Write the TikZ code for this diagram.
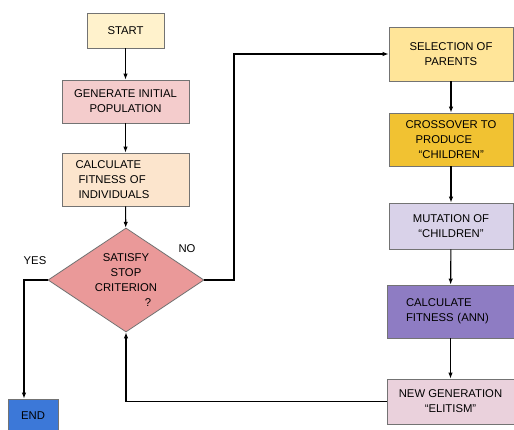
\documentclass[tikz,border=0pt]{standalone}
\usepackage{fontspec}
\setmainfont{Liberation Sans}
\usetikzlibrary{shapes.geometric,arrows.meta}

\begin{document}
\begin{tikzpicture}[x=1pt, y=-1pt,
    every node/.style={font=\fontsize{11.3}{15}\selectfont},
    box/.style={draw=black!55, line width=0.8pt, inner sep=0pt, align=center},
    arr/.style={line width=1.1pt, -{Latex[length=6pt,width=4.5pt]}}]
    \useasboundingbox (0,0) rectangle (514,430);

    % left column
    \node[box, fill={rgb,255:red,255;green,242;blue,204}, minimum width=77pt, minimum height=35pt] (start) at (125.5,30.5) {START};
    \node[box, fill={rgb,255:red,244;green,204;blue,204}, minimum width=127pt, minimum height=43pt] (init) at (125.5,101.5) {GENERATE INITIAL\\POPULATION};
    \node[box, fill={rgb,255:red,252;green,229;blue,205}, minimum width=127pt, minimum height=53pt, align=left, text width=100pt, inner xsep=13.5pt] (fit) at (125.5,179.5) {CALCULATE\\\hspace*{3pt}FITNESS OF\\\hspace*{3pt}INDIVIDUALS};
    \node[box, diamond, aspect=1.5, fill={rgb,255:red,234;green,153;blue,153}, minimum width=156pt, minimum height=104pt] (stop) at (126,280) {SATISFY\\STOP\\CRITERION\\\hspace*{44pt}?};
    \node[box, fill={rgb,255:red,60;green,120;blue,216}, minimum width=50pt, minimum height=34pt] (finish) at (33,416) {END};

    \node (lyes) at (35,261) {YES};
    \node (lno) at (187,249) {NO};

    % right column
    \node[box, fill={rgb,255:red,255;green,229;blue,153}, minimum width=124pt, minimum height=54pt] (sel) at (451,54) {SELECTION OF\\PARENTS};
    \node[box, fill={rgb,255:red,241;green,194;blue,50}, minimum width=124pt, minimum height=53pt, align=left] (cross) at (451,139.5) {CROSSOVER TO\\\hspace*{10pt}PRODUCE\\\hspace*{13pt}“CHILDREN”};
    \node[box, fill={rgb,255:red,217;green,210;blue,233}, minimum width=124pt, minimum height=46pt] (mut) at (451,226) {MUTATION OF\\“CHILDREN”};
    \node[box, fill={rgb,255:red,142;green,124;blue,195}, minimum width=127pt, minimum height=53pt, align=left, text width=89pt, inner xsep=19pt] (ann) at (450.5,311.5) {CALCULATE\\FITNESS (ANN)};
    \node[box, fill={rgb,255:red,234;green,209;blue,220}, minimum width=127pt, minimum height=45pt] (gen) at (450.5,401.5) {NEW GENERATION\\“ELITISM”};

    \coordinate (yes) at (24,280);
    \coordinate (no) at (234,54);

    \draw[arr] (start) -- (init);
    \draw[arr] (init) -- (fit);
    \draw[arr] (fit) -- (stop);
    \draw[arr] (stop.west) -- (yes) -- (yes |- finish.north);
    \draw[arr] (stop.east) -| (no) -- (sel);
    \draw[arr] (sel) -- (cross);
    \draw[arr] (cross) -- (mut);
    \draw[arr] (mut) -- (ann);
    \draw[arr] (ann) -- (gen);
    \draw[arr] (gen.west) -| (stop.south);
\end{tikzpicture}
\end{document}
